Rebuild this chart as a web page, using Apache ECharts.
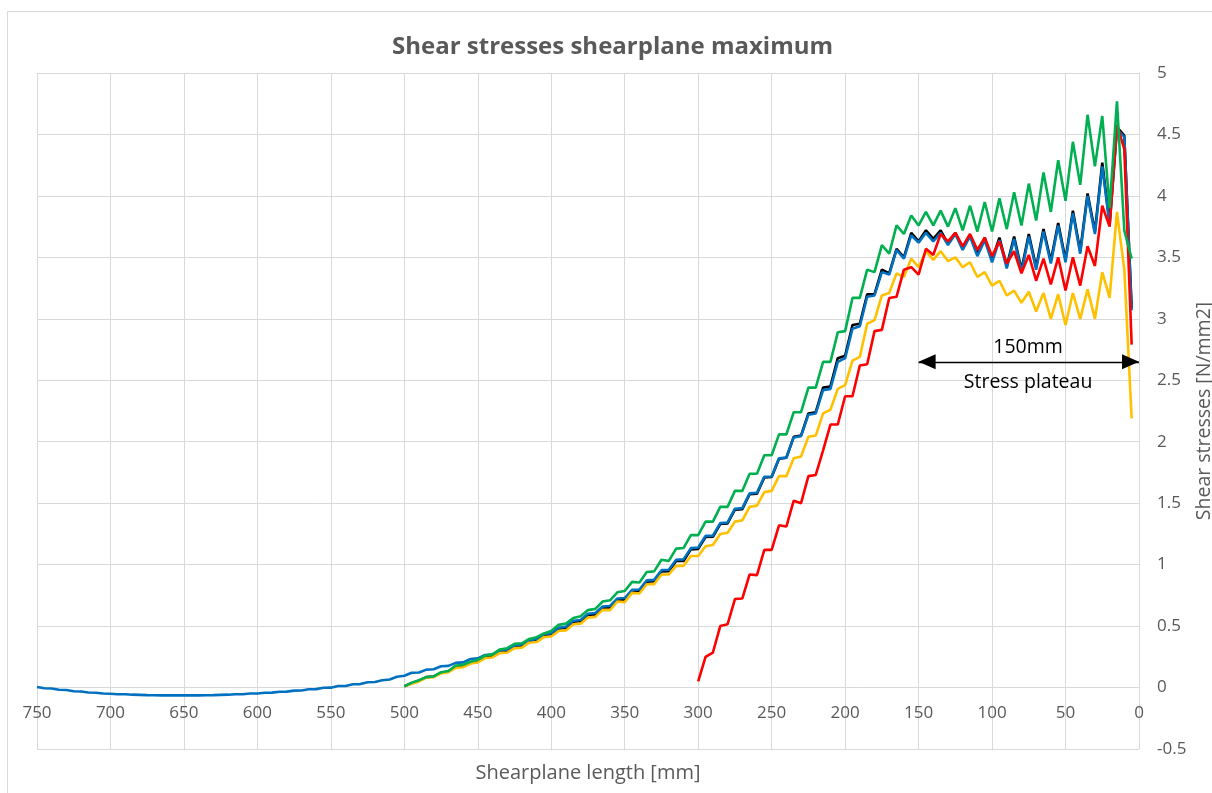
<!DOCTYPE html>
<html>
<head>
<meta charset="utf-8">
<script src="https://cdn.jsdelivr.net/npm/echarts@6/dist/echarts.min.js"></script>
<style>html,body{margin:0;padding:0;background:#fff}#chart{width:1212px;height:793px}</style>
</head>
<body>
<div id="chart"></div>
<script>
// Sample positions along the shear plane [mm] (all series end at 5 mm)
const positionsMm = [
750,745,740,735,730,725,720,715,710,705,
700,695,690,685,680,675,670,665,660,655,
650,645,640,635,630,625,620,615,610,605,
600,595,590,585,580,575,570,565,560,555,
550,545,540,535,530,525,520,515,510,505,
500,495,490,485,480,475,470,465,460,455,
450,445,440,435,430,425,420,415,410,405,
400,395,390,385,380,375,370,365,360,355,
350,345,340,335,330,325,320,315,310,305,
300,295,290,285,280,275,270,265,260,255,
250,245,240,235,230,225,220,215,210,205,
200,195,190,185,180,175,170,165,160,155,
150,145,140,135,130,125,120,115,110,105,
100,95,90,85,80,75,70,65,60,55,
50,45,40,35,30,25,20,15,10,5];

// Shear stresses [N/mm2], from the first sampled position down to 5 mm
const blueValues = [
0.005,-0.006,-0.008,-0.018,-0.020,-0.030,-0.032,-0.040,-0.042,-0.048,
-0.050,-0.054,-0.055,-0.058,-0.060,-0.062,-0.063,-0.064,-0.064,-0.064,
-0.064,-0.064,-0.064,-0.063,-0.062,-0.060,-0.058,-0.055,-0.054,-0.049,
-0.048,-0.042,-0.041,-0.034,-0.033,-0.025,-0.024,-0.014,-0.013,-0.002,
-0.001,0.012,0.013,0.027,0.028,0.043,0.045,0.060,0.066,0.088,
0.096,0.120,0.123,0.146,0.149,0.173,0.176,0.201,0.205,0.232,
0.237,0.265,0.270,0.301,0.308,0.342,0.350,0.387,0.393,0.435,
0.442,0.487,0.494,0.543,0.550,0.600,0.606,0.660,0.664,0.725,
0.728,0.795,0.798,0.872,0.876,0.955,0.958,1.040,1.043,1.134,
1.139,1.234,1.236,1.338,1.343,1.455,1.460,1.580,1.585,1.715,
1.717,1.865,1.871,2.035,2.045,2.22,2.23,2.42,2.43,2.65,
2.68,2.92,2.94,3.18,3.19,3.38,3.36,3.56,3.49,3.68,
3.62,3.70,3.63,3.70,3.60,3.69,3.56,3.67,3.51,3.64,
3.46,3.64,3.41,3.65,3.38,3.67,3.40,3.71,3.45,3.76,
3.46,3.86,3.53,4.00,3.69,4.24,3.76,4.54,4.48,3.07];

const greenValues = [
0.01,0.04,0.06,0.085,0.09,0.125,0.135,0.18,0.185,0.21,
0.225,0.26,0.27,0.31,0.32,0.355,0.36,0.395,0.41,0.44,
0.46,0.51,0.52,0.565,0.58,0.63,0.64,0.70,0.71,0.775,
0.785,0.86,0.855,0.94,0.945,1.04,1.03,1.13,1.135,1.24,
1.24,1.35,1.35,1.47,1.47,1.60,1.60,1.74,1.74,1.89,
1.89,2.06,2.06,2.24,2.24,2.44,2.44,2.65,2.65,2.89,
2.90,3.17,3.17,3.40,3.38,3.60,3.53,3.76,3.69,3.84,
3.76,3.87,3.76,3.88,3.75,3.90,3.72,3.92,3.71,3.95,
3.71,3.98,3.73,4.03,3.76,4.10,3.80,4.19,3.87,4.29,
3.96,4.44,4.09,4.66,4.24,4.65,3.90,4.77,3.72,3.49];

const blackValues = [
0.01,0.035,0.055,0.085,0.09,0.12,0.13,0.17,0.175,0.205,
0.215,0.25,0.26,0.29,0.30,0.335,0.34,0.38,0.385,0.425,
0.435,0.48,0.485,0.535,0.54,0.59,0.595,0.65,0.652,0.715,
0.715,0.785,0.787,0.862,0.865,0.945,0.947,1.03,1.03,1.124,
1.128,1.225,1.227,1.33,1.335,1.447,1.452,1.574,1.578,1.71,
1.713,1.862,1.87,2.04,2.05,2.23,2.24,2.44,2.45,2.68,
2.70,2.95,2.96,3.20,3.20,3.40,3.37,3.57,3.50,3.70,
3.63,3.72,3.65,3.72,3.61,3.70,3.58,3.68,3.53,3.66,
3.48,3.66,3.43,3.67,3.40,3.69,3.42,3.73,3.47,3.78,
3.48,3.88,3.55,4.02,3.71,4.27,3.78,4.56,4.49,3.09];

const yellowValues = [
0.01,0.03,0.05,0.08,0.085,0.115,0.125,0.16,0.165,0.195,
0.205,0.24,0.245,0.28,0.285,0.32,0.325,0.365,0.37,0.41,
0.415,0.46,0.465,0.515,0.52,0.57,0.575,0.632,0.63,0.70,
0.695,0.77,0.765,0.84,0.84,0.92,0.92,0.99,0.99,1.07,
1.07,1.15,1.16,1.25,1.26,1.35,1.36,1.47,1.48,1.59,
1.60,1.72,1.72,1.865,1.88,2.04,2.05,2.23,2.26,2.43,
2.46,2.66,2.69,2.96,2.99,3.19,3.21,3.37,3.34,3.49,
3.42,3.55,3.48,3.55,3.47,3.50,3.42,3.46,3.34,3.38,
3.27,3.31,3.19,3.23,3.13,3.22,3.06,3.21,3.00,3.20,
2.95,3.21,3.00,3.24,3.00,3.38,3.17,3.87,3.40,2.19];

const redValues = [
0.05,0.25,0.285,0.50,0.515,0.72,0.724,0.92,0.915,1.12,
1.12,1.32,1.31,1.52,1.50,1.72,1.73,1.93,2.14,2.14,
2.37,2.37,2.62,2.63,2.90,2.91,3.17,3.18,3.40,3.42,
3.36,3.57,3.52,3.69,3.63,3.70,3.59,3.69,3.56,3.66,
3.51,3.63,3.45,3.55,3.37,3.52,3.31,3.49,3.28,3.50,
3.23,3.50,3.27,3.59,3.43,3.92,3.75,4.58,4.38,2.79];

// Axis ticks
const xTicks = {min: 0, max: 750, step: 50};
const yTicks = {min: -0.5, max: 5, step: 0.5};

// Annotation
const plateau = {fromMm: 150, toMm: 0, level: 2.65, label: '150mm', note: 'Stress plateau', labelMm: 75.5, labelLevel: 2.77, noteLevel: 2.48};

function pairUp(values) {
  const xs = positionsMm.slice(positionsMm.length - values.length);
  return xs.map((x, i) => [x, values[i]]);
}

const FONT = '"Open Sans", "Noto Sans", sans-serif';
const GRID_COLOR = '#D9D9D9';
const TEXT_COLOR = '#595959';

function lineSeries(name, values, color, z) {
  return {
    name, type: 'line', data: pairUp(values), showSymbol: false, symbol: 'none',
    lineStyle: {color, width: 2.6}, itemStyle: {color}, z, animation: false, silent: true
  };
}

const series = [
  lineSeries('black', blackValues, '#000000', 2),
  lineSeries('blue', blueValues, '#0070C0', 3),
  lineSeries('yellow', yellowValues, '#FFC000', 4),
  lineSeries('red', redValues, '#FF0000', 5),
  lineSeries('green', greenValues, '#00B050', 6),
  {
    name: 'annotation', type: 'line', data: [], silent: true, z: 10, animation: false,
    markLine: {
      silent: true, animation: false,
      symbol: ['triangle', 'triangle'], symbolSize: [15, 17], symbolOffset: [[0, 8.5], [0, 8.5]],
      lineStyle: {color: '#000', width: 1.3, type: 'solid'},
      itemStyle: {color: '#000'},
      label: {show: false},
      emphasis: {disabled: true},
      data: [[{coord: [plateau.fromMm, plateau.level]}, {coord: [plateau.toMm, plateau.level]}]]
    },
    markPoint: {
      silent: true, animation: false, symbol: 'circle', symbolSize: 1,
      itemStyle: {color: 'rgba(0,0,0,0)'},
      label: {show: true, position: 'inside', color: '#000', fontSize: 19.5, fontFamily: FONT, formatter: p => p.name},
      data: [
        {name: plateau.label, coord: [plateau.labelMm, plateau.labelLevel]},
        {name: plateau.note, coord: [plateau.labelMm, plateau.noteLevel]}
      ]
    }
  }
];

const chart = echarts.init(document.getElementById('chart'), null, {renderer: 'canvas'});
chart.setOption({
  animation: false,
  backgroundColor: '#ffffff',
  textStyle: {fontFamily: FONT},
  title: {
    text: 'Shear stresses shearplane maximum', left: 387, top: 30,
    textStyle: {color: TEXT_COLOR, fontWeight: 'bold', fontSize: 24, fontFamily: FONT}
  },
  grid: {left: 37, right: 73, top: 73, bottom: 44, containLabel: false, outerBoundsMode: 'none'},
  xAxis: {
    type: 'value', min: xTicks.min, max: xTicks.max, interval: xTicks.step, inverse: true,
    position: 'bottom',
    axisLine: {show: false, onZero: false},
    axisTick: {show: false},
    axisLabel: {color: TEXT_COLOR, fontSize: 17, margin: -44, fontFamily: FONT, showMinLabel: true, showMaxLabel: true},
    splitLine: {show: true, lineStyle: {color: GRID_COLOR, width: 1}},
    name: 'Shearplane length [mm]', nameLocation: 'middle', nameGap: 14, nameMoveOverlap: false,
    nameTextStyle: {color: TEXT_COLOR, fontSize: 20, fontFamily: FONT}
  },
  yAxis: {
    type: 'value', position: 'right', min: yTicks.min, max: yTicks.max, interval: yTicks.step,
    axisLine: {show: true, onZero: false, lineStyle: {color: GRID_COLOR, width: 1}},
    axisTick: {show: false},
    axisLabel: {color: TEXT_COLOR, fontSize: 17, margin: 18, align: 'left', fontFamily: FONT, showMinLabel: true, showMaxLabel: true},
    splitLine: {show: true, lineStyle: {color: GRID_COLOR, width: 1}},
    name: 'Shear stresses [N/mm2]', nameLocation: 'middle', nameRotate: 90, nameGap: 55, nameMoveOverlap: false,
    nameTextStyle: {color: TEXT_COLOR, fontSize: 19.5, fontFamily: FONT}
  },
  graphic: [{
    type: 'rect', silent: true, z: -1,
    shape: {x: 7.5, y: 11.5, width: 1240, height: 800},
    style: {fill: null, stroke: GRID_COLOR, lineWidth: 1}
  }],
  series
});
</script>
</body>
</html>
